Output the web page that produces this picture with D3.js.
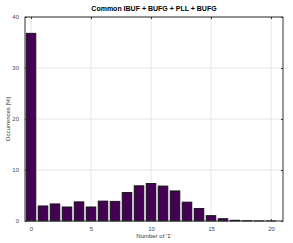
<!DOCTYPE html>
<html>
<head>
<meta charset="utf-8">
<script src="https://cdn.jsdelivr.net/npm/d3@7"></script>
<style>
  body { margin: 0; background: #fff; }
  text { font-family: "Liberation Sans", Arial, sans-serif; }
</style>
</head>
<body>
<script>
// chart size
var width = 293, height = 243;
var margin = { top: 17, right: 10, bottom: 22, left: 25 };

// data
var ones = d3.range(0, 21);
var occurrences = [36.8, 2.95, 3.35, 2.75, 3.75, 2.75, 3.9, 3.85, 5.6, 6.9, 7.35,
                   6.85, 5.9, 3.7, 2.45, 1.05, 0.45, 0.15, 0.05, 0.02, 0.01];
var xTicks = [0, 5, 10, 15, 20];
var yTicks = [0, 10, 20, 30, 40];

var svg = d3.select('body')
  .append('svg')
  .attr('width', width)
  .attr('height', height);

var x = d3.scaleLinear().domain([-0.5, 21]).range([margin.left, width - margin.right]);
var y = d3.scaleLinear().domain([0, 40]).range([height - margin.bottom, margin.top]);

// grid
svg.append('g').selectAll('line.vx')
  .data(xTicks).enter().append('line')
  .attr('x1', function(d) { return x(d); })
  .attr('x2', function(d) { return x(d); })
  .attr('y1', y(0)).attr('y2', y(40))
  .attr('stroke', '#e0e0e0').attr('stroke-width', 0.8);
svg.append('g').selectAll('line.hy')
  .data(yTicks).enter().append('line')
  .attr('x1', x(-0.5)).attr('x2', x(21))
  .attr('y1', function(d) { return y(d); })
  .attr('y2', function(d) { return y(d); })
  .attr('stroke', '#e0e0e0').attr('stroke-width', 0.8);

// bars
var bw = 0.8;
svg.append('g').selectAll('rect')
  .data(ones).enter().append('rect')
  .attr('x', function(d) { return x(d - bw / 2); })
  .attr('width', x(bw) - x(0))
  .attr('y', function(d, i) { return y(occurrences[i]); })
  .attr('height', function(d, i) { return y(0) - y(occurrences[i]); })
  .attr('fill', '#440154')
  .attr('stroke', '#111')
  .attr('stroke-width', 0.9);

// axes, ticks pointing inward (matlab style)
var xAxis = d3.axisBottom(x).tickValues(xTicks).tickSizeInner(-2).tickSizeOuter(0).tickPadding(6);
var yAxis = d3.axisLeft(y).tickValues(yTicks).tickSizeInner(-2).tickSizeOuter(0).tickPadding(6);
var xTop = d3.axisTop(x).tickValues(xTicks).tickSizeInner(-2).tickSizeOuter(0).tickFormat('');
var yRight = d3.axisRight(y).tickValues(yTicks).tickSizeInner(-2).tickSizeOuter(0).tickFormat('');

var gx = svg.append('g').attr('transform', 'translate(0,' + y(0) + ')').call(xAxis);
var gy = svg.append('g').attr('transform', 'translate(' + x(-0.5) + ',0)').call(yAxis);
var gt = svg.append('g').attr('transform', 'translate(0,' + y(40) + ')').call(xTop);
var gr = svg.append('g').attr('transform', 'translate(' + x(21) + ',0)').call(yRight);
[gx, gy, gt, gr].forEach(function(g) {
  g.select('.domain').remove();
  g.selectAll('text').attr('font-size', 6).attr('fill', '#444');
  g.selectAll('line').attr('stroke', '#333');
});

// frame
svg.append('rect')
  .attr('x', x(-0.5)).attr('y', y(40))
  .attr('width', x(21) - x(-0.5))
  .attr('height', y(0) - y(40))
  .attr('fill', 'none')
  .attr('stroke', '#333')
  .attr('stroke-width', 1);

// labels
svg.append('text')
  .attr('x', (x(-0.5) + x(21)) / 2).attr('y', 11)
  .attr('text-anchor', 'middle')
  .attr('font-size', 7).attr('font-weight', 'bold')
  .text('Common IBUF + BUFG + PLL + BUFG');

svg.append('text')
  .attr('x', (x(-0.5) + x(21)) / 2).attr('y', 238)
  .attr('text-anchor', 'middle')
  .attr('font-size', 6).attr('fill', '#333')
  .text("Number of '1'");

svg.append('text')
  .attr('transform', 'translate(10,' + y(20) + ') rotate(-90)')
  .attr('text-anchor', 'middle')
  .attr('font-size', 6).attr('fill', '#333')
  .text('Occurrences [%]');
</script>
</body>
</html>
